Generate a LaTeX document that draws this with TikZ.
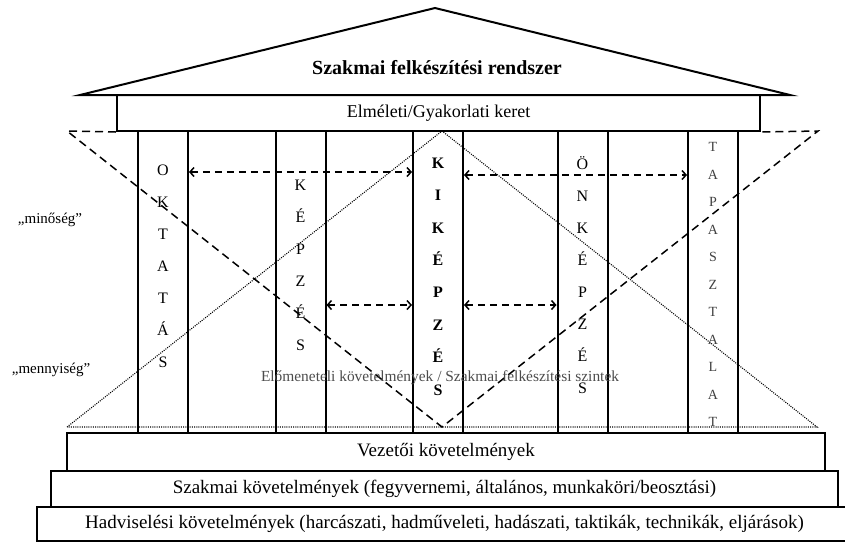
\documentclass[tikz,border=0pt]{standalone}
\usepackage{fontspec}
\setmainfont{Liberation Serif}
\usetikzlibrary{positioning, arrows.meta}
\tikzset{
	every node/.style={inner sep=0pt},
	box/.style={draw, line width=2pt, minimum height=36pt},
	pillar/.style={draw, line width=2pt, minimum width=50pt, minimum height=302pt},
	letters/.style={align=center, font=\fontsize{16}{32}\selectfont},
	level/.style={font=\fontsize{19}{22}\selectfont},
	link/.style={draw, line width=1.5pt, dash pattern=on 7pt off 5pt, {Straight Barb[length=4pt,width=9pt]}-{Straight Barb[length=4pt,width=9pt]}},
	cone/.style={line width=1.5pt, dash pattern=on 8pt off 5pt},
	pyramid/.style={line width=1.1pt, dash pattern=on 1pt off 1.2pt}
}

\begin{document}
\begin{tikzpicture}[x=1pt,y=-1pt]
\useasboundingbox (0,0) rectangle (845,542);
\coordinate (roofl) at (80,95); \coordinate (roofr) at (790,95); \coordinate (rooft) at (435,8);
\coordinate (dl) at (67,131); \coordinate (dr) at (818,131); \coordinate (db) at (442,427);
\coordinate (pl) at (67,427); \coordinate (pr) at (817,427); \coordinate (ptop) at (442,131);
\draw[line width=2pt] (roofl) -- (rooft) -- (roofr) -- cycle;
\node (title) [font=\bfseries\fontsize{20}{22}\selectfont] at (437,68) {Szakmai felkészítési rendszer};
\node (keret) [box, minimum width=643pt, font=\fontsize{18}{20}\selectfont] at (438.5,113) {Elméleti/Gyakorlati keret};
\node (oktatas) [pillar] at (163,282) {};
\node (kepzes) [pillar] at (300.5,282) {};
\node (kikepzes) [pillar] at (438,282) {};
\node (onkepzes) [pillar] at (582.5,282) {};
\node (tapasztalat) [pillar] at (713,282) {};
\draw[cone] (keret.south west) -- (dl) -- (db) -- (dr) -- (keret.south east);
\draw[pyramid] (pl) -- (ptop) -- (pr) -- cycle;
\node (oktatas-t) [letters] at (163,266.5) {O\\K\\T\\A\\T\\Á\\S};
\node (kepzes-t) [letters] at (300.5,265) {K\\É\\P\\Z\\É\\S};
\node (kikepzes-t) [letters, font=\bfseries\fontsize{16}{32.4}\selectfont] at (438,276.5) {K\\I\\K\\É\\P\\Z\\É\\S};
\node (onkepzes-t) [letters] at (582.5,275.5) {Ö\\N\\K\\É\\P\\Z\\É\\S};
\node (tapasztalat-t) [letters, font=\fontsize{14}{27.5}\selectfont, text=black!75] at (713,284.5) {T\\A\\P\\A\\S\\Z\\T\\A\\L\\A\\T};
\draw[link] ([yshift=110pt]oktatas.east) -- ([yshift=110pt]kikepzes.west);
\draw[link] ([yshift=107pt]kikepzes.east) -- ([yshift=107pt]tapasztalat.west);
\draw[link] ([yshift=-23pt]kepzes.east) -- ([yshift=-23pt]kikepzes.west);
\draw[link] ([yshift=-23pt]kikepzes.east) -- ([yshift=-23pt]onkepzes.west);
\node (minoseg) [font=\fontsize{15}{17}\selectfont] at (50,220) {„minőség”};
\node (mennyiseg) [font=\fontsize{15}{17}\selectfont] at (51,370) {„mennyiség”};
\node (szintek) [font=\fontsize{15.4}{17}\selectfont, text=black!70] at (440,378) {Előmeneteli követelmények / Szakmai felkészítési szintek};
\node (vezetoi) [box, minimum width=758pt, minimum height=38pt, level] at (446,452) {Vezetői követelmények};
\node (szakmai) [box, minimum width=787pt, level] at (444.5,489) {Szakmai követelmények (fegyvernemi, általános, munkaköri/beosztási)};
\node (hadviseles) [box, minimum width=815pt, minimum height=34pt, level] at (444.5,524) {Hadviselési követelmények (harcászati, hadműveleti, hadászati, taktikák, technikák, eljárások)};
\end{tikzpicture}
\end{document}
